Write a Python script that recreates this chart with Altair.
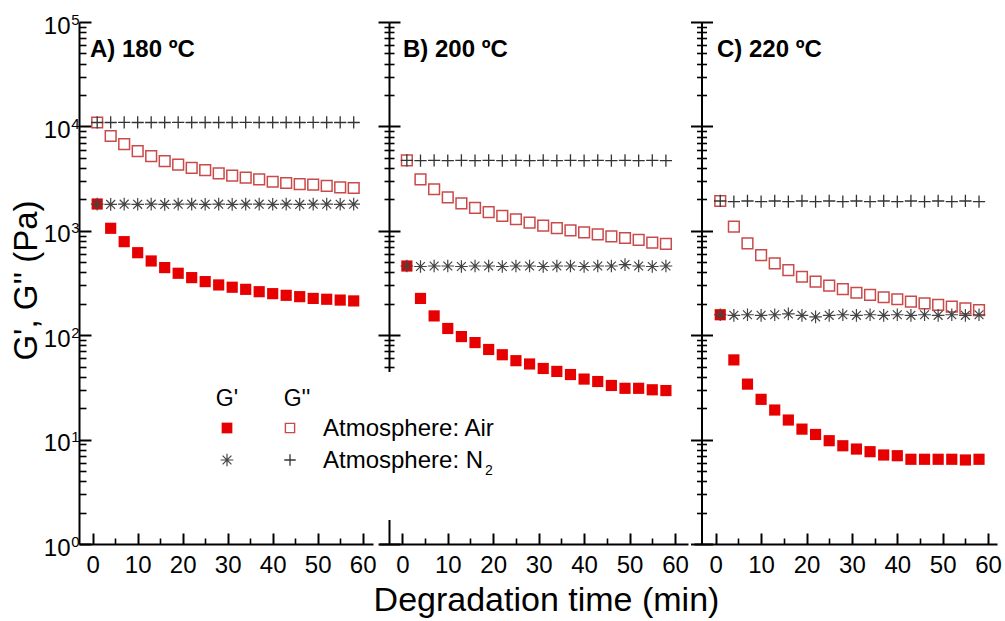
import altair as alt
import pandas as pd

# ---------------- data ----------------
times = [1, 4, 7, 10, 13, 16, 19, 22, 25, 28, 31, 34, 37, 40, 43, 46, 49, 52, 55, 58]

# Panel A, 180 ºC
a_air_gp = [1806, 1057, 787, 617, 514, 444, 392, 356, 326, 303, 288, 275, 261, 250, 241, 234, 225, 221, 217, 213]
a_air_gpp = [10900, 8090, 6780, 5810, 5200, 4660, 4300, 4000, 3820, 3550, 3370, 3230, 3110, 2950, 2870, 2800, 2770, 2690, 2610, 2570]
a_n2_gp = [1800, 1790, 1800, 1795, 1800, 1790, 1800, 1800, 1795, 1800, 1790, 1800, 1800, 1795, 1800, 1790, 1800, 1800, 1795, 1800]
a_n2_gpp = [10900, 10900, 10950, 10900, 10900, 10900, 10950, 10900, 10900, 10900, 10900, 10950, 10900, 10900, 10900, 10900, 10950, 10900, 10900, 10900]

# Panel B, 200 ºC
b_air_gp = [460, 225, 153, 116, 97, 85, 73, 65, 57, 53, 48, 45, 42, 38, 36, 33, 31, 31, 30, 29.5]
b_air_gpp = [4730, 3110, 2500, 2090, 1830, 1660, 1510, 1390, 1290, 1200, 1120, 1060, 1010, 968, 925, 885, 853, 817, 770, 748]
b_n2_gp = [460, 455, 460, 460, 455, 460, 460, 455, 460, 460, 455, 460, 460, 455, 460, 460, 475, 460, 455, 460]
b_n2_gpp = [4730, 4700, 4730, 4700, 4730, 4700, 4730, 4700, 4730, 4700, 4730, 4700, 4730, 4700, 4730, 4700, 4730, 4700, 4730, 4700]

# Panel C, 220 ºC
c_air_gp = [157, 58, 34, 24.3, 19.2, 15.4, 12.6, 11.2, 9.76, 8.73, 8.12, 7.66, 7.12, 7.01, 6.48, 6.48, 6.48, 6.48, 6.38, 6.48]
c_air_gpp = [1930, 1095, 759, 586, 488, 421, 363, 326, 298, 276, 255, 243, 231, 221, 210, 202, 195, 188, 181, 174]
c_n2_gp = [157, 155, 157, 155, 157, 160, 155, 150, 155, 157, 155, 157, 155, 157, 155, 157, 155, 157, 155, 157]
c_n2_gpp = [1930, 1900, 1930, 1900, 1930, 1900, 1930, 1900, 1930, 1900, 1930, 1900, 1930, 1900, 1930, 1900, 1930, 1900, 1930, 1900]

panel_titles = ["A) 180 \u00baC", "B) 200 \u00baC", "C) 220 \u00baC"]
x_major = [0, 10, 20, 30, 40, 50, 60]
x_minor = [5, 15, 25, 35, 45, 55]
y_major = [1, 10, 100, 1000, 10000, 100000]
y_minor = [k * 10 ** e for e in range(0, 5) for k in range(2, 10)]
legend_heads = ["G'", "G''"]
legend_labels = ["Atmosphere: Air", "Atmosphere: N"]
legend_sub = "2"
x_title = "Degradation time (min)"
y_title = "G', G'' (Pa)"

FONT = "Liberation Sans"
PLUS = "M-1,0L1,0M0,-1L0,1"
STAR = "M-1,0L1,0M0,-1L0,1M-0.7,-0.7L0.7,0.7M-0.7,0.7L0.7,-0.7"
RED = "#e60000"
PINK = "#c94a4a"
H = 522


def make_df(gp_air, gpp_air, gp_n2, gpp_n2):
    rows = []
    for name, vals in [("gp_air", gp_air), ("gpp_air", gpp_air), ("gp_n2", gp_n2), ("gpp_n2", gpp_n2)]:
        for t, v in zip(times, vals):
            rows.append({"series": name, "t": t, "v": v})
    return pd.DataFrame(rows)


dfs = [
    make_df(a_air_gp, a_air_gpp, a_n2_gp, a_n2_gpp),
    make_df(b_air_gp, b_air_gpp, b_n2_gp, b_n2_gpp),
    make_df(c_air_gp, c_air_gpp, c_n2_gp, c_n2_gpp),
]

one = alt.Data(values=[{"k": 1}])


def series_layer(base, xs, ys, name, **mk):
    return base.transform_filter(alt.datum.series == name).mark_point(opacity=1, **mk).encode(
        x=alt.X("t:Q", scale=xs, axis=None),
        y=alt.Y("v:Q", scale=ys, axis=None),
    )


def txt(text, x, y, size=24, align="left", weight="normal"):
    return alt.Chart(one).mark_text(
        text=text, font=FONT, fontSize=size, fontWeight=weight, align=align,
        baseline="middle", color="black",
    ).encode(x=alt.value(x), y=alt.value(y))


def panel(i, W, yoff, xdom):
    df = dfs[i]
    first = i == 0
    xs = alt.Scale(domain=xdom, nice=False, zero=False)
    ys = alt.Scale(type="log", domain=[1, 100000], nice=False)
    base = alt.Chart(df)

    xlab_kw = dict(
        orient="bottom", values=x_major, ticks=False, tickSize=0, labelFontSize=24,
        labelFont=FONT, labelPadding=9, labelFlush=False, domainWidth=2, domainColor="black",
        grid=False, labelColor="black",
    )
    if i == 1:
        xlab_kw.update(title=x_title, titleFont=FONT, titleFontSize=34, titleFontWeight="normal",
                       titleX=167, titleY=66, titleBaseline="alphabetic", titleColor="black")
    else:
        xlab_kw.update(title=None)

    if first:
        ymain = alt.Axis(
            orient="left", values=y_major, ticks=False, tickSize=0, labelFontSize=24,
            labelFont=FONT, labelPadding=9, labelOffset=4, labelFlush=False, labelColor="black",
            labelExpr="'10'",
            domainWidth=2, domainColor="black", grid=False,
            title=y_title, titleFont=FONT, titleFontSize=33, titleFontWeight="normal",
            titleX=-53, titleY=258, titleAngle=270, titleAlign="center", titleBaseline="middle",
            titleColor="black",
        )
        maj_len, min_len = 12, 7
    else:
        ymain = alt.Axis(
            orient="left", offset=-yoff, values=y_major, ticks=True, tickSize=11, tickWidth=2,
            tickColor="black", labels=False, domainWidth=2, domainColor="black", grid=False, title=None,
        )
        maj_len, min_len = 11, 5

    L0 = base.mark_point(opacity=0).encode(
        x=alt.X("t:Q", scale=xs, axis=alt.Axis(**xlab_kw)),
        y=alt.Y("v:Q", scale=ys, axis=ymain),
    )
    L1 = base.mark_point(opacity=0).encode(
        x=alt.X("t:Q", scale=xs, axis=alt.Axis(
            orient="top", offset=-H, values=x_major, ticks=True, tickSize=11, tickWidth=2,
            tickColor="black", labels=False, domain=False, grid=False, title=None)),
        y=alt.Y("v:Q", scale=ys, axis=alt.Axis(
            orient="right", offset=-(W - yoff), values=y_major, ticks=True, tickSize=maj_len,
            tickWidth=2, tickColor="black", labels=False, domain=False, grid=False, title=None)),
    )
    L2 = base.mark_point(opacity=0).encode(
        x=alt.X("t:Q", scale=xs, axis=alt.Axis(
            orient="top", offset=-H, values=x_minor, ticks=True, tickSize=6, tickWidth=1.6,
            tickColor="black", labels=False, domain=False, grid=False, title=None)),
        y=alt.Y("v:Q", scale=ys, axis=alt.Axis(
            orient="right", offset=-(W - yoff), values=y_minor, ticks=True, tickSize=min_len,
            tickWidth=1.6, tickColor="black", labels=False, domain=False, grid=False, title=None)),
    )
    layers = [L0, L1, L2]
    if first:
        # exponents of the decade labels
        L3 = base.mark_point(opacity=0).encode(
            x=alt.X("t:Q", scale=xs, axis=None),
            y=alt.Y("v:Q", scale=ys, axis=alt.Axis(
                orient="left", values=y_major, ticks=False, tickSize=0, labels=True,
                labelExpr="'' + round(log(datum.value)/LN10)", labelFont=FONT, labelFontSize=15,
                labelPadding=0, labelOffset=-3, labelFlush=False, labelColor="black",
                domain=False, grid=False, title=None)),
        )
    else:
        L3 = base.mark_point(opacity=0).encode(
            x=alt.X("t:Q", scale=xs, axis=None),
            y=alt.Y("v:Q", scale=ys, axis=alt.Axis(
                orient="left", offset=-yoff, values=y_minor, ticks=True, tickSize=min_len,
                tickWidth=1.6, tickColor="black", labels=False, domain=False, grid=False, title=None)),
        )
    layers.append(L3)

    layers += [
        series_layer(base, xs, ys, "gp_air", shape="square", filled=True, color=RED, size=125),
        series_layer(base, xs, ys, "gpp_air", shape="square", filled=False, color=PINK, size=115, strokeWidth=1.5),
        series_layer(base, xs, ys, "gp_n2", shape=STAR, filled=False, color="#444444", size=160, strokeWidth=1.2),
        series_layer(base, xs, ys, "gpp_n2", shape=PLUS, filled=False, color="#333333", size=150, strokeWidth=1.3),
    ]

    tx = 11 if first else (24 if i == 1 else 23)
    layers.append(txt(panel_titles[i], tx, 28, size=24, weight="bold"))

    if i == 1:
        # legend (drawn in panel B so it lies above B's axis)
        layers += [
            alt.Chart(one).mark_rect(color="white", opacity=1).encode(
                x=alt.value(-180), x2=alt.value(127), y=alt.value(350), y2=alt.value(498)),
            txt(legend_heads[0], -152, 377, size=23, align="center"),
            txt(legend_heads[1], -82, 377, size=23, align="center"),
            alt.Chart(one).mark_point(shape="square", filled=True, color=RED, size=115, opacity=1).encode(
                x=alt.value(-152), y=alt.value(406)),
            alt.Chart(one).mark_point(shape="square", filled=False, color=PINK, size=85, strokeWidth=1.4, opacity=1).encode(
                x=alt.value(-89), y=alt.value(406)),
            alt.Chart(one).mark_point(shape=STAR, filled=False, color="#444444", size=160, strokeWidth=1.2, opacity=1).encode(
                x=alt.value(-152), y=alt.value(438)),
            alt.Chart(one).mark_point(shape=PLUS, filled=False, color="#333333", size=130, strokeWidth=1.3, opacity=1).encode(
                x=alt.value(-89), y=alt.value(438)),
            txt(legend_labels[0], -56, 407, size=24),
            txt(legend_labels[1], -56, 439, size=24),
            txt(legend_sub, 106, 449, size=14),
        ]

    return alt.layer(*layers).resolve_axis(x="independent", y="independent").properties(width=W, height=H)


pA = panel(0, 294, 0, [-3.04, 62.29])
pB = panel(1, 309, 10, [-5.13, 62.86])
pC = panel(2, 303, 7.5, [-4.78, 61.96])

chart = alt.hconcat(pA, pB, pC, spacing=6, bounds="flush").properties(
    autosize=alt.AutoSizeParams(type="none"),
    padding={"left": 79, "top": 22, "right": 926, "bottom": 599},
).configure_view(stroke=None)

chart.save("out.html", embed_options={"renderer": "svg", "actions": False})
